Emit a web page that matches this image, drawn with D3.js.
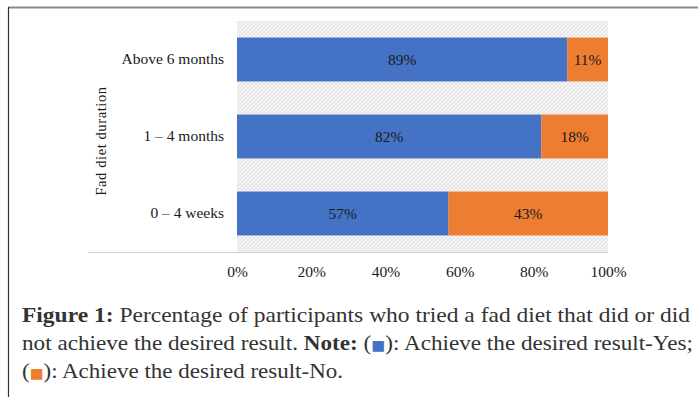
<!DOCTYPE html>
<html>
<head>
<meta charset="utf-8">
<script src="https://cdn.jsdelivr.net/npm/d3@7"></script>
<style>
  html, body { margin: 0; padding: 0; background: #fff; }
  svg { display: block; }
</style>
</head>
<body>
<svg id="chart" width="698" height="397"></svg>
<script>
// Fad diet duration groups, top to bottom
const categories = ["Above 6 months", "1 \u2013 4 months", "0 \u2013 4 weeks"];
// Share of participants who achieved the desired result (Yes) / did not (No)
const yesValues = [89, 82, 57];
const noValues = [11, 18, 43];
const xTicks = [0, 20, 40, 60, 80, 100];
const seriesColors = ["#4472C4", "#ED7D31"];

const svg = d3.select("#chart");
const serif = "'Liberation Serif', 'Times New Roman', serif";

// Outer frame: grey rule on top, dark rule on the left
svg.append("line").attr("x1", 8).attr("x2", 698).attr("y1", 7.5).attr("y2", 7.5)
  .attr("stroke", "#8a8a8a").attr("stroke-width", 2);
svg.append("line").attr("x1", 8.5).attr("x2", 8.5).attr("y1", 7).attr("y2", 397)
  .attr("stroke", "#333").attr("stroke-width", 1.2);

const plot = { left: 237, right: 608, top: 21, bottom: 252 };

const x = d3.scaleLinear().domain([0, 100]).range([plot.left, plot.right]);
const y = d3.scaleBand().domain(categories).range([plot.top, plot.bottom]).paddingInner(0.43).paddingOuter(0.215);

// Light hatched plot background
const defs = svg.append("defs");
const pat = defs.append("pattern").attr("id", "hatch").attr("patternUnits", "userSpaceOnUse")
  .attr("width", 4).attr("height", 4);
pat.append("rect").attr("width", 4).attr("height", 4).attr("fill", "#f6f6f6");
pat.append("path").attr("d", "M0,4 L4,0 M-1,1 L1,-1 M3,5 L5,3").attr("stroke", "#d8d8d8").attr("stroke-width", 0.8);
pat.append("path").attr("d", "M0,0 L4,4").attr("stroke", "#e4e4e4").attr("stroke-width", 0.6);

svg.append("rect").attr("x", plot.left).attr("y", plot.top)
  .attr("width", plot.right - plot.left).attr("height", plot.bottom - plot.top)
  .attr("fill", "url(#hatch)");

// Stacked segments
const rows = categories.map((c, i) => ({ cat: c, segs: [
  { start: 0, value: yesValues[i], color: seriesColors[0] },
  { start: yesValues[i], value: noValues[i], color: seriesColors[1] }
]}));

const g = svg.append("g");
rows.forEach(r => {
  r.segs.forEach(s => {
    g.append("rect")
      .attr("x", x(s.start)).attr("y", y(r.cat))
      .attr("width", x(s.start + s.value) - x(s.start))
      .attr("height", y.bandwidth())
      .attr("fill", s.color);
    g.append("text")
      .attr("x", x(s.start + s.value / 2)).attr("y", y(r.cat) + y.bandwidth() / 2)
      .attr("text-anchor", "middle").attr("dominant-baseline", "central")
      .attr("font-family", serif).attr("font-size", 15.5).attr("fill", "#1a1a1a")
      .text(s.value + "%");
  });
});

// Category axis
const yAxis = svg.append("g").attr("transform", `translate(${plot.left - 13},0)`)
  .call(d3.axisLeft(y).tickSize(0).tickPadding(0));
yAxis.select(".domain").remove();
yAxis.selectAll("text").attr("font-family", serif).attr("font-size", 15.5).attr("fill", "#1a1a1a");

// Value axis
const xAxis = svg.append("g").attr("transform", `translate(0,${plot.bottom + 20})`)
  .call(d3.axisBottom(x).tickValues(xTicks).tickFormat(d => d + "%").tickSize(0).tickPadding(0));
xAxis.select(".domain").remove();
xAxis.selectAll("text").attr("font-family", serif).attr("font-size", 15.5).attr("fill", "#1a1a1a")
  .attr("dy", "0.35em");

// Baseline under the plot
svg.append("line").attr("x1", 88).attr("x2", plot.right).attr("y1", plot.bottom + 0.5).attr("y2", plot.bottom + 0.5)
  .attr("stroke", "#d0d0d0").attr("stroke-width", 1);

// Axis title
svg.append("text")
  .attr("transform", `translate(101,141) rotate(-90)`)
  .attr("text-anchor", "middle").attr("dominant-baseline", "central")
  .attr("font-family", serif).attr("font-size", 14.5).attr("fill", "#1a1a1a")
  .attr("letter-spacing", 0.6)
  .text("Fad diet duration");

// Caption
const capFont = 22;
const capColor = "#333";
function captionLine(yPos, parts, width) {
  const t = svg.append("text").attr("x", 22).attr("y", yPos)
    .attr("font-family", serif).attr("font-size", capFont).attr("fill", capColor);
  parts.forEach(p => {
    const ts = t.append("tspan").text(p.text);
    if (p.bold) ts.attr("font-weight", "bold");
    if (p.color) ts.attr("fill", p.color).attr("font-family", "'DejaVu Sans', sans-serif").attr("font-size", 14);
  });
  if (width) t.attr("textLength", width).attr("lengthAdjust", "spacingAndGlyphs");
  return t;
}
captionLine(322, [
  { text: "Figure 1:", bold: true },
  { text: " Percentage of participants who tried a fad diet that did or did" }
], 668);
captionLine(350, [
  { text: "not achieve the desired result. " },
  { text: "Note:", bold: true },
  { text: " (" },
  { text: "\u25A0", color: seriesColors[0] },
  { text: "): Achieve the desired result-Yes;" }
], 671);
captionLine(378, [
  { text: "(" },
  { text: "\u25A0", color: seriesColors[1] },
  { text: "): Achieve the desired result-No." }
], 321);
</script>
</body>
</html>
